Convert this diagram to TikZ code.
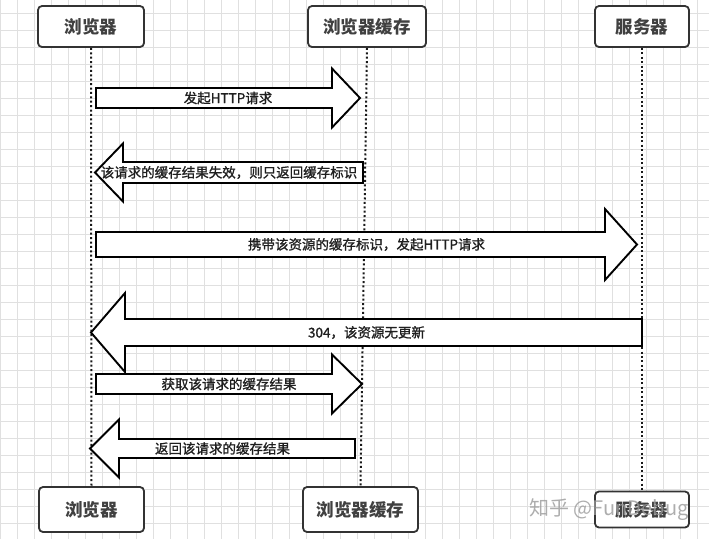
\documentclass[tikz,border=0pt]{standalone}
\usepackage{fontspec}
\setmainfont{Noto Sans CJK SC}
\newfontfamily\msgfont{Noto Sans CJK SC}[FakeBold=1.2]
\usepackage{tikz}
\usetikzlibrary{calc}
\usetikzlibrary{positioning}

% block arrow from #1 to #2: body half width, head half width, signed head length
\newcommand{\msgarrow}[5]{%
  \draw[msgbody] ($(#1)+(0,#3)$) -- ($(#2)+(#5,#3)$) -- ($(#2)+(#5,#4)$) -- (#2)
    -- ($(#2)+(#5,-#4)$) -- ($(#2)+(#5,-#3)$) -- ($(#1)+(0,-#3)$) -- cycle;}

\begin{document}
\begin{tikzpicture}[x=1pt, y=-1pt,
    actor/.style={draw=black!80, line width=1.8pt, rounded corners=4pt, fill=white,
      font=\fontsize{17.5}{20}\selectfont\bfseries, text=black!75, inner sep=0pt},
    lifeline/.style={black!90, line width=2pt, dash pattern=on 2pt off 2.4pt},
    msgbody/.style={draw=black, line width=1.9pt, fill=white, line join=miter},
    msglabel/.style={font=\msgfont\fontsize{13.5}{15}\selectfont, text=black!88, inner sep=0pt},
    gridline/.style={draw=black!12, line width=0.6pt}]

    % Background and grid
    \useasboundingbox (0,0) rectangle (709,539);
    \fill[white] (0,0) rectangle (709,539);
    \begin{scope}[shift={(0,13)}]
        \draw[gridline, step=17pt] (0,-13) grid (709,526);
    \end{scope}

    % Boxes on top
    \node[actor, minimum width=106pt, minimum height=41pt] (bTop) at (91,26.5) {浏览器};
    \node[actor, minimum width=118pt, minimum height=41pt] (cTop) at (367,26.5) {浏览器缓存};
    \node[actor, minimum width=94pt, minimum height=41pt] (sTop) at (642,26.5) {服务器};

    % Boxes at the bottom
    \node[actor, minimum width=105pt, minimum height=45pt] (bBot) at (91.5,509.5) {浏览器};
    \node[actor, minimum width=115pt, minimum height=45pt] (cBot) at (360.5,509.5) {浏览器缓存};
    \node[actor, minimum width=94pt, minimum height=36pt] (sBot) at (642,509.5) {服务器};

    % Lifelines
    \draw[lifeline] (bTop.south) -- (bBot.north);
    \draw[lifeline] (cTop.south) -- (cBot.north);
    \draw[lifeline] (sTop.south) -- (sBot.north);

    % Ends of the messages
    \coordinate (m1s) at (96,98);
    \coordinate (m1e) at (360,98);
    \coordinate (m2s) at (363,172.5);
    \coordinate (m2e) at (95,172.5);
    \coordinate (m3s) at (96,244.5);
    \coordinate (m3e) at (637,244.5);
    \coordinate (m4s) at (642,332.5);
    \coordinate (m4e) at (91,332.5);
    \coordinate (m5s) at (96,384);
    \coordinate (m5e) at (362,384);
    \coordinate (m6s) at (355,448.5);
    \coordinate (m6e) at (90,448.5);

    % Messages
    \msgarrow{m1s}{m1e}{10}{29.5}{-28}
    \node[msglabel] (m1) at ($(m1s)!0.5!(m1e)$) {发起HTTP请求};

    \msgarrow{m2s}{m2e}{10.5}{29}{28}
    \node[msglabel] (m2) at ($(m2s)!0.5!(m2e)$) {该请求的缓存结果失效，则只返回缓存标识};

    \msgarrow{m3s}{m3e}{12.5}{35.5}{-32}
    \node[msglabel] (m3) at ($(m3s)!0.5!(m3e)$) {携带该资源的缓存标识，发起HTTP请求};

    \msgarrow{m4s}{m4e}{13.5}{39.5}{34}
    \node[msglabel] (m4) at ($(m4s)!0.5!(m4e)$) {304，该资源无更新};

    \msgarrow{m5s}{m5e}{10}{29.5}{-30}
    \node[msglabel] (m5) at ($(m5s)!0.5!(m5e)$) {获取该请求的缓存结果};

    \msgarrow{m6s}{m6e}{9.5}{29}{29}
    \node[msglabel] (m6) at ($(m6s)!0.5!(m6e)$) {返回该请求的缓存结果};

    % Watermark
    \node[font=\fontsize{20}{22}\selectfont, text=black!40, text opacity=0.8] (wm) at (609,510) {知乎 @FunDebug};

\end{tikzpicture}
\end{document}
